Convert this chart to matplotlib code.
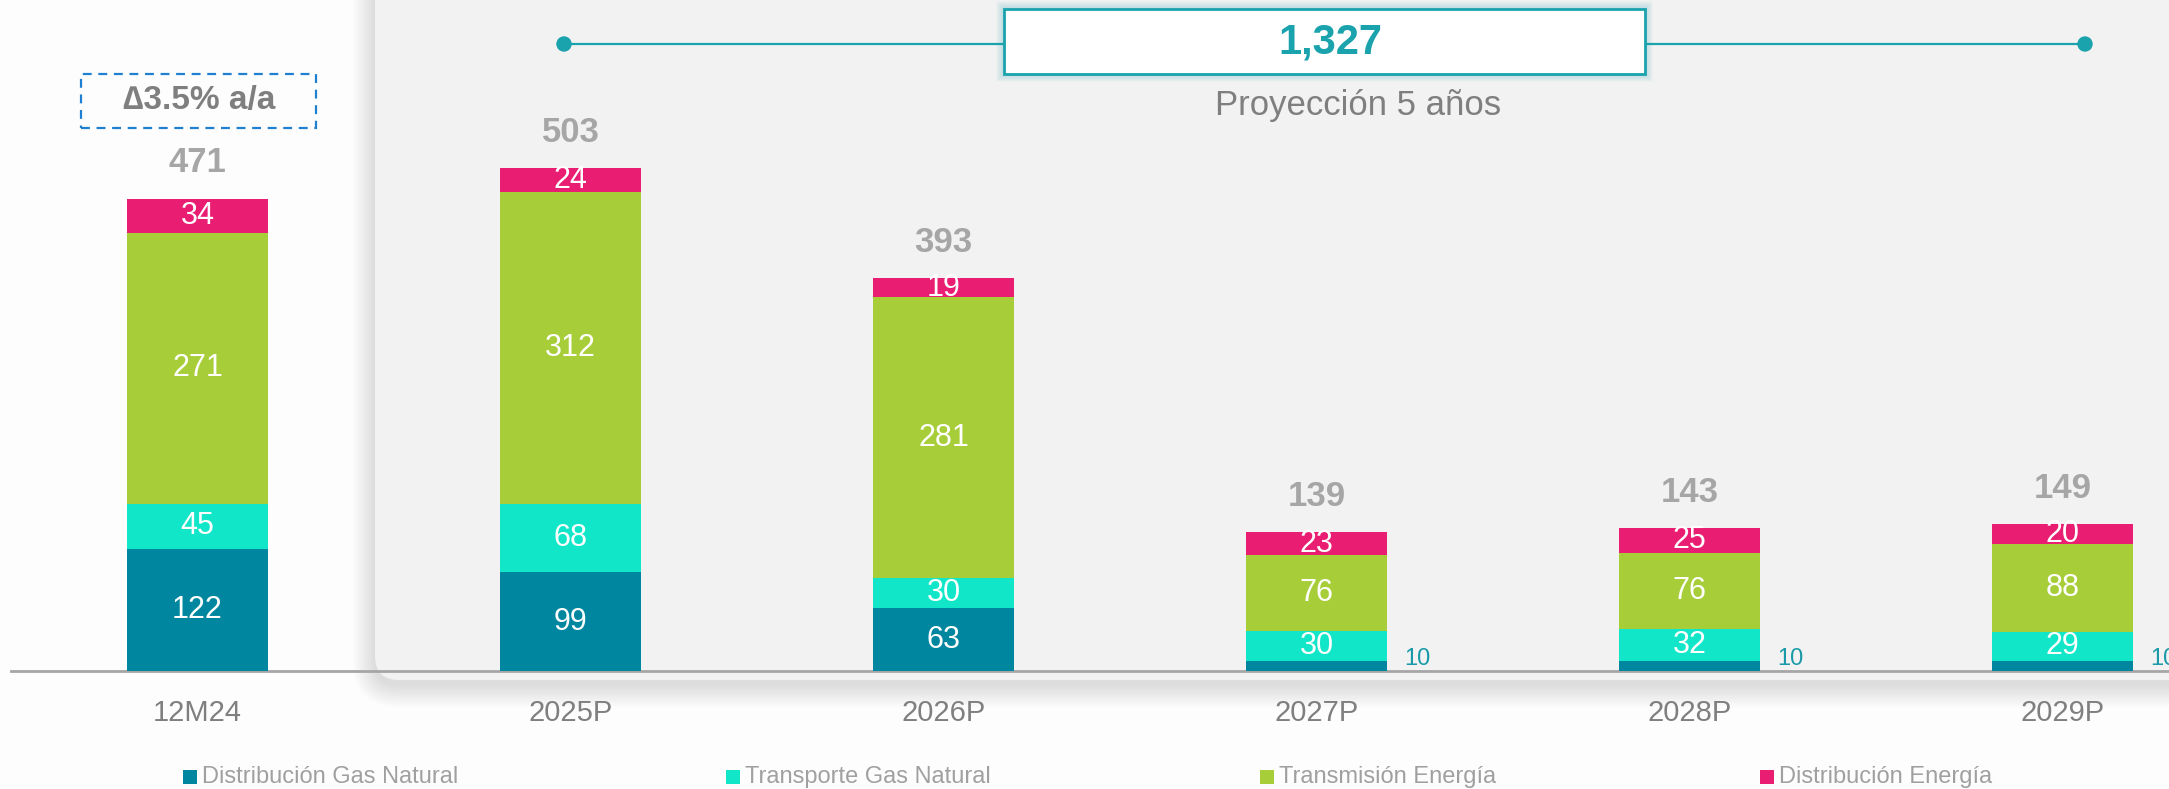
import matplotlib
matplotlib.use('Agg')
import matplotlib.pyplot as plt
from matplotlib.patches import Rectangle, FancyBboxPatch, Circle
from matplotlib.transforms import IdentityTransform
from matplotlib.lines import Line2D

# datos
periodos = ['12M24', '2025P', '2026P', '2027P', '2028P', '2029P']
dist_gas = [122, 99, 63, 10, 10, 10]
transp_gas = [45, 68, 30, 30, 32, 29]
transm_energia = [271, 312, 281, 76, 76, 88]
dist_energia = [34, 24, 19, 23, 25, 20]
totales = [471, 503, 393, 139, 143, 149]
series_nombres = ['Distribución Gas Natural', 'Transporte Gas Natural',
                  'Transmisión Energía', 'Distribución Energía']
total_proyeccion = '1,327'
texto_proyeccion = 'Proyección 5 años'
variacion = '\u22063.5% a/a'

colores = ['#00879f', '#12e6c8', '#a7ce39', '#e91e72']
gris = '#7f7f7f'
gris_claro = '#a6a6a6'
teal = '#1aa2ad'

plt.rcParams['font.family'] = ['Liberation Sans', 'DejaVu Sans']

W, H = 2169, 789
fig = plt.figure(figsize=(W / 100, H / 100), dpi=100, facecolor='#fdfdfd')
pix = IdentityTransform()


def fx(x):
    return x / W


def fy(y):
    return 1 - y / H


# panel gris de la proyeccion con sombra suave
for i in range(16, 0, -1):
    sombra = FancyBboxPatch((375, H - 680 - 5), 1900, 760,
                            boxstyle=f'round,pad={i * 1.4},rounding_size={24 + i * 1.4}',
                            transform=pix, fc='#000000', ec='none', alpha=0.006, zorder=-11)
    fig.add_artist(sombra)
panel = FancyBboxPatch((375, H - 680), 1900, 760, boxstyle='round,pad=0,rounding_size=24',
                       transform=pix, fc='#f2f2f2', ec='none', zorder=-10)
fig.add_artist(panel)

# ejes
ax = fig.add_axes([11 / W, 118 / H, (W - 11) / W, 671 / H])
ax.set_facecolor('none')
x = list(range(len(periodos)))
ancho = 0.38

abajo = [0] * len(x)
contenedores = []
for vals, col in zip([dist_gas, transp_gas, transm_energia, dist_energia], colores):
    c = ax.bar(x, vals, ancho, bottom=abajo, color=col, zorder=3)
    contenedores.append(c)
    abajo = [a + v for a, v in zip(abajo, vals)]

for c, vals in zip(contenedores, [dist_gas, transp_gas, transm_energia, dist_energia]):
    etiquetas = [str(v) if v >= 15 else '' for v in vals]
    ax.bar_label(c, labels=etiquetas, label_type='center', color='white', fontsize=22)

# etiquetas chicas fuera de la barra
for i, v in enumerate(dist_gas):
    if v < 15:
        ax.text(i + 0.235, 1, str(v), ha='left', va='bottom', color='#1a9aa8', fontsize=17,
                zorder=4, clip_on=False)

# totales
for i, t in enumerate(totales):
    ax.text(i, abajo[i] + 36, str(t), ha='center', va='center', fontsize=25,
            fontweight='bold', color=gris_claro)

ax.set_xlim(-0.5, (W - 11) / 373 - 0.5)
ax.set_ylim(0, 671)
ax.set_xticks(x)
ax.set_xticklabels(periodos, fontsize=21, color=gris)
ax.tick_params(axis='x', length=0, pad=20)
ax.set_yticks([])
for s in ['top', 'right', 'left']:
    ax.spines[s].set_visible(False)
ax.spines['bottom'].set_color(gris_claro)
ax.spines['bottom'].set_linewidth(2)

# linea de tiempo de la proyeccion
fig.add_artist(Line2D([564, 2085], [H - 44, H - 44], transform=pix, color=teal, lw=1.6, zorder=5))
for cx in [564, 2085]:
    fig.add_artist(Circle((cx, H - 44), 7, transform=pix, color=teal, zorder=6))
for i in range(8, 0, -1):
    fig.add_artist(FancyBboxPatch((1004, H - 74), 641, 65, boxstyle=f'square,pad={i}',
                                  transform=pix, fc=teal, ec='none', alpha=0.03, zorder=6))
fig.add_artist(Rectangle((1004, H - 74), 641, 65, transform=pix, fc='white', ec=teal,
                         lw=2, zorder=7))
fig.text(fx(1330), fy(42), total_proyeccion, ha='center', va='center', fontsize=30,
         fontweight='bold', color=teal, zorder=8)
fig.text(fx(1358), fy(106), texto_proyeccion, ha='center', va='center', fontsize=25,
         color=gris, zorder=8)

# caja de variacion
fig.add_artist(Rectangle((81, H - 128), 235, 54, transform=pix, fill=False, ec='#1f7fd0',
                         lw=1.6, ls=(0, (4, 3)), zorder=5))
fig.text(fx(199), fy(101), variacion, ha='center', va='center', fontsize=24,
         fontweight='bold', color=gris, zorder=6)

# leyenda
leyenda_x = [183, 726, 1260, 1760]
for lx, nombre, col in zip(leyenda_x, series_nombres, colores):
    fig.add_artist(Rectangle((lx, H - 777 - 7), 14, 14, transform=pix, fc=col, ec='none'))
    fig.text(fx(lx + 19), fy(777), nombre, ha='left', va='center', fontsize=17, color='#a0a0a0')

fig.savefig('out.png', dpi=100, facecolor=fig.get_facecolor())
